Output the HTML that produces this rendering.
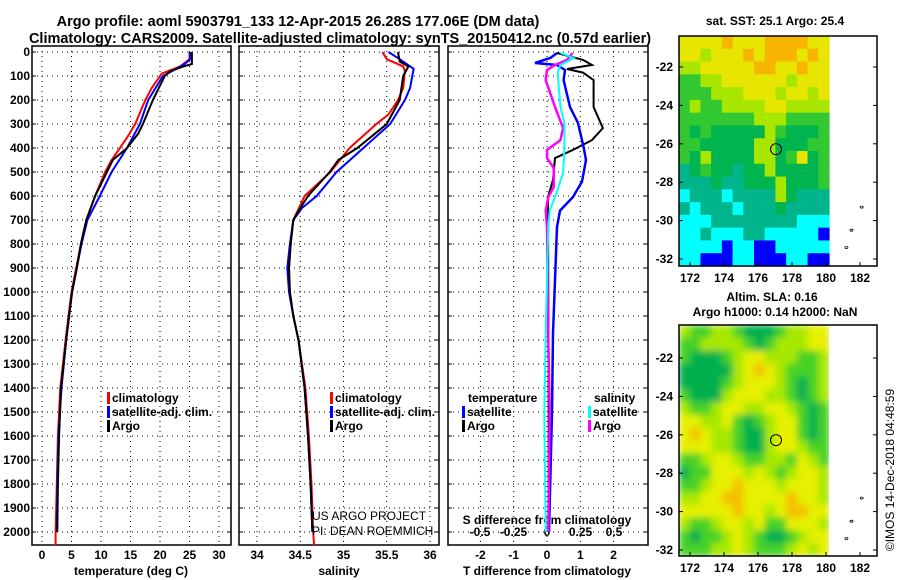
<!DOCTYPE html>
<html><head><meta charset="utf-8"><style>
body{margin:0;background:#fff}
svg{display:block;font-family:"Liberation Sans",sans-serif}
.b{font-weight:bold;font-size:12px}
.t{font-weight:bold;font-size:14.5px}
</style></head><body>
<svg id="c" width="900" height="580" viewBox="0 0 900 580">
<text class="t" x="298" y="26" text-anchor="middle">Argo profile: aoml 5903791_133 12-Apr-2015 26.28S 177.06E (DM data)</text>
<text class="t" x="340" y="43" text-anchor="middle">Climatology: CARS2009. Satellite-adjusted climatology: synTS_20150412.nc (0.57d earlier)</text>
<g id="g"></g>
</svg>
<script>
// ---------- data ----------
const depthTicks=[0,100,200,300,400,500,600,700,800,900,1000,1100,1200,1300,1400,1500,1600,1700,1800,1900,2000];
const tTicks=[0,5,10,15,20,25,30];
const sTicks=[34,34.5,35,35.5,36];
const sTickLabels=["34","34.5","35","35.5","36"];
const dTTicks=[-2,-1,0,1,2];
const dSTickLabels=["-0.5","-0.25","0","0.25","0.5"];
const dSTicks=[-0.5,-0.25,0,0.25,0.5];

const tArgoDepth=[0,50,60,80,100,200,300,340,400,450,500,600,700,800,900,1000,1100,1200,1400,1600,1800,2000];
const tArgo=[25.4,25.4,24,21.7,20.8,18.8,17.1,16.3,14.4,12,11,9,7.5,6.6,5.9,5.1,4.6,4.1,3.2,2.9,2.7,2.6];
const tClimDepth=[0,30,60,90,150,200,300,350,400,450,500,600,700,800,900,1000,1100,1200,1400,1600,1800,2000,2055];
const tClim=[25,25,23.4,20.3,18.6,17.5,15.8,14.6,13.2,11.8,10.7,9,7.5,6.6,5.8,5,4.5,4,3.1,2.7,2.5,2.3,2.3];
const tSatDepth=[0,30,50,70,100,200,300,400,500,600,700,800,900,1000,1100,1200,1400,1600,1800,2000];
const tSat=[25.1,25.1,24.2,22.8,20.5,18,16.6,14.4,11.8,9.8,7.7,6.7,5.9,5.1,4.6,4.1,3.3,2.8,2.6,2.5];

const sArgoDepth=[0,40,60,100,200,300,400,450,500,600,650,700,800,900,1000,1100,1200,1400,1600,1800,2000];
const sArgo=[35.63,35.65,35.75,35.69,35.65,35.5,35.16,34.94,34.84,34.59,34.5,34.42,34.39,34.37,34.38,34.42,34.48,34.55,34.59,34.62,34.64];
const sClimDepth=[0,30,60,80,150,200,260,300,400,450,500,600,700,800,900,1000,1100,1200,1400,1600,1800,2000,2055];
const sClim=[35.45,35.5,35.69,35.71,35.69,35.63,35.52,35.38,35.07,34.96,34.85,34.55,34.42,34.39,34.37,34.38,34.42,34.48,34.56,34.6,34.63,34.65,34.66];
const sSatDepth=[0,30,70,150,200,300,400,500,600,650,700,800,900,1000,1100,1200,1400,1600,1800,2000];
const sSat=[35.52,35.65,35.81,35.77,35.71,35.54,35.23,34.92,34.69,34.52,34.42,34.38,34.35,34.37,34.42,34.48,34.55,34.59,34.62,34.64];

const dTArgoDepth=[4,33,54,71,86,117,229,317,367,408,442,533,604,675,1000,1500,2000];
const dTArgo=[0.3,1.08,1.35,0.6,1.08,1.4,1.4,1.68,1.35,0.78,0.24,0.18,0.03,0.03,0.04,0.05,0.05];
const dTSatDepth=[4,25,46,54,75,117,229,296,396,450,540,604,661,729,1173,1500,2000];
const dTSat=[0.3,0.1,-0.36,0.3,0.54,0.5,0.69,0.93,1.1,1.17,1.05,0.78,0.39,0.3,0.18,0.15,0.06];
const dSArgoDepth=[4,33,54,75,117,229,317,367,408,442,483,563,604,661,729,1200,1500,2000];
const dSArgo=[0.19,0.15,0.06,0,-0.01,0.06,0.12,0.1,0,0,0.05,0.05,0.01,-0.01,0,0.01,0.02,0.01];
const dSSatDepth=[4,25,54,86,229,296,408,504,588,661,729,1173,1500,2000];
const dSSat=[0.1,0.2,0.1,0.08,0.1,0.13,0.13,0.12,0.07,0.02,0.01,-0.01,-0.02,-0.01];

const sstRows=["YYYYOYYYOOOOYY","YYLYYYOYOOOYOY","LLYYYYYOOYYOYY","GGLLYYYYYYLYYY","GGGLLLYYYLYYLY","GLGGLLLLYYLLLL","GGGGGGGLLLGGGG","GDGDDDDDLGDDDG","GGDDDDDLLDDDGG","GDLDDDDLLDGYDG","TDGDDTDDLDDDDG","TTTDTTDDDLDDDG","CTTTCTTTTLDTTT","TCTTTCTTTDTTTT","CCCTTTTTTTTCCC","CCTCCCTTCCCCCB","CCCCBCCBBCCCCC","CCBBBCCBBBCCBB"];
const slaRows=["LGGLLGDDDGLLYY","GGLLLLGDGLLLYY","GDDDGLYYLLLGGL","DDDDDLYOYLGGGL","DDDDGLYYYLGDGL","GDDDLYYYLLGDGL","LGGLYYLLYYLGDG","YYLLYGDGLYYGDG","YOYLLGDDLYYGDG","YYYLLGDDLYYLGG","GGLYYLGGLLGYLG","DGGYYYLYLGLYYL","GGLYYOYYYLYYYL","LLYYOOYYYYOYYL","YYYYYOYYLYOOYY","LGGLYYLYGGYYYL","GDGGLYLGDDGLYY","GGGLLYLGGGLYLY"];
const latTicks=[-22,-24,-26,-28,-30,-32];
const lonTicks=[172,174,176,178,180,182];
const argoLon=177.06, argoLat=-26.28;

// ---------- helpers ----------
const NS="http://www.w3.org/2000/svg";
const G=document.getElementById('g');
function mk(tag,at,txt){const e=document.createElementNS(NS,tag);for(const k in at)e.setAttribute(k,at[k]);if(txt!==undefined)e.textContent=txt;G.appendChild(e);return e;}
const yD=d=>52+0.24*d;
const P1={l:32,r:231},P2={l:239,r:439},P3={l:448,r:648},TOP=46,BOT=545;
const xT=t=>42+5.9*t, xS=s=>257+86.5*(s-34), xDT=v=>547+33.3*v, xDS=v=>547+134*v;

[[P1,tTicks.map(xT)],[P2,sTicks.map(xS)],[P3,dTTicks.map(xDT)]].forEach(([p,xs],i)=>{
  depthTicks.forEach(d=>{const l=mk('line',{x1:p.l,x2:p.r,y1:yD(d),y2:yD(d),stroke:'#000','stroke-dasharray':'1 4','stroke-width':1});
  
  [p.l,p.r-4].forEach(x=>{const tk=mk('line',{x1:x,x2:x+4,y1:yD(d),y2:yD(d),stroke:'#000'});});});
  xs.forEach(x=>{const l=mk('line',{x1:x,x2:x,y1:TOP,y2:BOT,stroke:'#000','stroke-dasharray':'1 4'});
  });
  const r=mk('rect',{x:p.l,y:TOP,width:p.r-p.l,height:BOT-TOP,fill:'none',stroke:'#000','stroke-width':1.5});
  
});
depthTicks.forEach(d=>{const t=mk('text',{x:30,y:yD(d)+4,'text-anchor':'end',class:'b'},String(d));});
tTicks.forEach(v=>{const t=mk('text',{x:xT(v),y:559,'text-anchor':'middle',class:'b'},String(v));});
sTicks.forEach((v,i)=>{const t=mk('text',{x:xS(v),y:559,'text-anchor':'middle',class:'b'},sTickLabels[i]);});
dTTicks.forEach(v=>{const t=mk('text',{x:xDT(v),y:559,'text-anchor':'middle',class:'b'},String(v));});
dSTicks.forEach((v,i)=>{const t=mk('text',{x:xDS(v),y:536,'text-anchor':'middle',class:'b'},dSTickLabels[i]);});
[[131,'temperature (deg C)','temp-axis-title'],[339,'salinity','sal-axis-title'],[547,'T difference from climatology','tdiff-axis-title'],[547,'S difference from climatology','sdiff-axis-title']].forEach(([x,s,n],i)=>{
  const t=mk('text',{x:x,y:i==3?524:575,'text-anchor':'middle',class:'b'},s);});

function line(ds,vs,fx,col,name,w){const pts=ds.map((d,i)=>fx(vs[i]).toFixed(1)+','+yD(d).toFixed(1)).join(' ');
  const e=mk('polyline',{points:pts,fill:'none',stroke:col,'stroke-width':w||2});}
line(tClimDepth,tClim,xT,'#f00','temp-climatology-line');
line(tSatDepth,tSat,xT,'#00f','temp-satellite-line');
line(tArgoDepth,tArgo,xT,'#000','temp-argo-line');
line(sClimDepth,sClim,xS,'#f00','sal-climatology-line');
line(sSatDepth,sSat,xS,'#00f','sal-satellite-line');
line(sArgoDepth,sArgo,xS,'#000','sal-argo-line');
line(dTArgoDepth,dTArgo,xDT,'#000','tdiff-argo-line');
line(dTSatDepth,dTSat,xDT,'#00f','tdiff-satellite-line',2.5);
line(dSArgoDepth,dSArgo,xDS,'#f0f','sdiff-argo-line',2.5);
line(dSSatDepth,dSSat,xDS,'#0ff','sdiff-satellite-line');

function leg(x,y,col,txt,name){const r=mk('rect',{x:x-5,y:y-10,width:3,height:12,fill:col});
 const t=mk('text',{x:x,y:y,class:'b'},txt);}
leg(112,402,'#f00','climatology','legend-temp-climatology');leg(112,416,'#00f','satellite-adj. clim.','legend-temp-satellite');leg(112,430,'#000','Argo','legend-temp-argo');
leg(335,402,'#f00','climatology','legend-sal-climatology');leg(335,416,'#00f','satellite-adj. clim.','legend-sal-satellite');leg(335,430,'#000','Argo','legend-sal-argo');
{const t=mk('text',{x:468,y:402,class:'b'},'temperature');}
{const t=mk('text',{x:594,y:402,class:'b'},'salinity');}
leg(467,416,'#00f','satellite','legend-tdiff-satellite');leg(467,430,'#000','Argo','legend-tdiff-argo');
leg(593,416,'#0ff','satellite','legend-sdiff-satellite');leg(593,430,'#f0f','Argo','legend-sdiff-argo');
{const t=mk('text',{x:312,y:520,'font-size':12},'US ARGO PROJECT');}
{const t=mk('text',{x:312,y:535,'font-size':12},'PI: DEAN ROEMMICH');}

// ---------- maps ----------
const PAL1={O:'#f7b400',Y:'#e6e600',L:'#a8e600',G:'#32c832',D:'#00b450',T:'#00b48c',C:'#00ffff',B:'#0000ff'};
const PAL2={O:'#f5c000',Y:'#e6f000',L:'#a8e800',G:'#46d228',D:'#00b050'};
const MX0=679,MX1=877,DATAX1=829;
const xL=lon=>690+17*(lon-172);
function map(y0,y1,latY,rows,pal,name,blur){
  const yLat=lat=>latY+(-22-lat)*19.2;
  const grp=document.createElementNS(NS,'g');G.appendChild(grp);
  
  if(blur){grp.setAttribute('filter','url(#bl)');}
  const cw=(DATAX1-MX0)/rows[0].length, ch=(y1-y0)/rows.length;
  rows.forEach((r,j)=>[...r].forEach((c,i)=>{const e=document.createElementNS(NS,'rect');
    e.setAttribute('x',MX0+i*cw);e.setAttribute('y',y0+j*ch);e.setAttribute('width',cw+0.6);e.setAttribute('height',ch+0.6);e.setAttribute('fill',pal[c]);
    
    
    grp.appendChild(e);}));
  if(blur){const cover=mk('rect',{x:DATAX1,y:y0-10,width:60,height:y1-y0+20,fill:'#fff'});
    [[MX0-20,y0-20,20,y1-y0+40],[MX0-20,y0-20,240,20],[MX0-20,y1,240,20]].forEach(a=>{const m=mk('rect',{x:a[0],y:a[1],width:a[2],height:a[3],fill:'#fff'});});}
  const fr=mk('rect',{x:MX0,y:y0,width:MX1-MX0,height:y1-y0,fill:'none',stroke:'#000','stroke-width':1.5});
  latTicks.forEach(l=>{const y=yLat(l);
    [MX0,MX1-4].forEach(x=>{const tk=mk('line',{x1:x,x2:x+4,y1:y,y2:y,stroke:'#000'});});
    const t=mk('text',{x:673,y:y+4,'text-anchor':'end',class:'b'},String(l));});
  lonTicks.forEach(l=>{const x=xL(l);
    const tk=mk('line',{x1:x,x2:x,y1:y1,y2:y1-4,stroke:'#000'});
    const t=mk('text',{x:x,y:y1+16,'text-anchor':'middle',class:'b'},String(l));});
  const c=mk('circle',{cx:xL(argoLon),cy:yLat(argoLat),r:5.5,fill:'none',stroke:'#000','stroke-width':1});
  [[181.2,-31.4],[181.5,-30.5],[182.1,-29.3]].forEach(p=>{const e=mk('ellipse',{cx:xL(p[0]),cy:yLat(p[1]),rx:1.5,ry:1,fill:'none',stroke:'#000','stroke-width':0.8});});
}
const defs=document.createElementNS(NS,'defs');defs.innerHTML='<filter id="bl" x="-5%" y="-5%" width="110%" height="110%"><feGaussianBlur stdDeviation="3.5"/></filter>';G.appendChild(defs);
map(36,266,67,sstRows,PAL1,'sst-map',false);
map(325,556,358,slaRows,PAL2,'sla-map',true);
{const t=mk('text',{x:775,y:25,'text-anchor':'middle',class:'b'},'sat. SST: 25.1 Argo: 25.4');}
{const t=mk('text',{x:772,y:301,'text-anchor':'middle',class:'b'},'Altim. SLA: 0.16');}
{const t=mk('text',{x:775,y:316,'text-anchor':'middle',class:'b'},'Argo h1000: 0.14 h2000: NaN');}
{const t=mk('text',{x:0,y:0,'font-size':12,transform:'translate(894,470) rotate(-90)','text-anchor':'middle'},'©IMOS 14-Dec-2018 04:48:59');}
</script>
</body></html>
